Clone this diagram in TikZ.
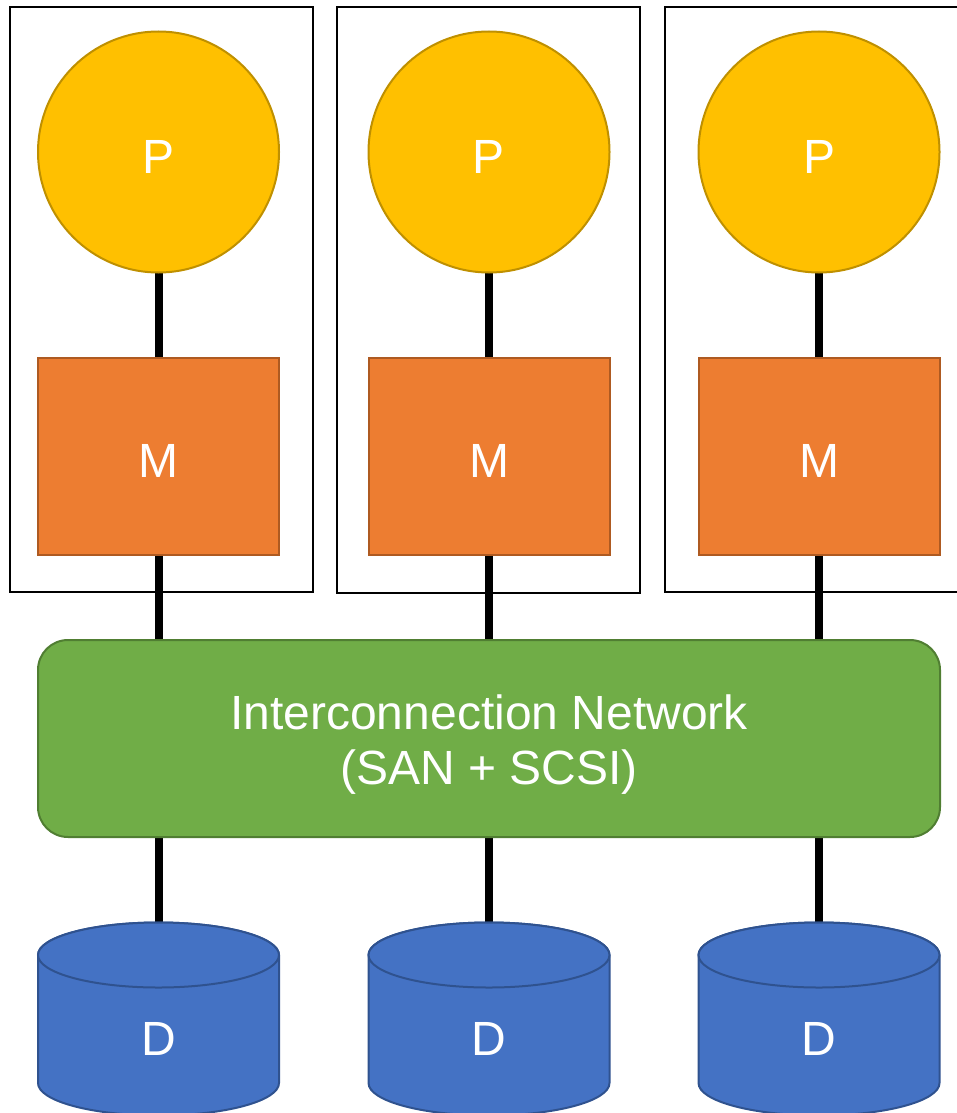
\documentclass[tikz,border=0pt]{standalone}
\usepackage{fontspec}
\setmainfont{Liberation Sans}
\usetikzlibrary{backgrounds}
\definecolor{pfill}{HTML}{FFC000}
\definecolor{pline}{HTML}{BF9000}
\definecolor{mfill}{HTML}{ED7D31}
\definecolor{mline}{HTML}{AE5A21}
\definecolor{nfill}{HTML}{70AD47}
\definecolor{nline}{HTML}{507E32}
\definecolor{dfill}{HTML}{4472C4}
\definecolor{dline}{HTML}{2F528F}
\begin{document}
\begin{tikzpicture}[x=1pt,y=-1pt,
  bigtext/.style={text=white,font=\fontsize{48}{55}\selectfont},
  proc/.style={circle,fill=pfill,draw=pline,line width=2pt,minimum size=241pt,inner sep=0pt,bigtext,text height=42pt,text depth=0pt},
  mem/.style={rectangle,fill=mfill,draw=mline,line width=2pt,minimum width=241pt,minimum height=197pt,inner sep=0pt,bigtext,text height=41pt,text depth=0pt},
  netbox/.style={rectangle,rounded corners=30pt,fill=nfill,draw=nline,line width=2pt,minimum width=902pt,minimum height=197pt},
  nettxt/.style={anchor=base,align=center,inner sep=0pt,bigtext},
  disk/.style={fill=dfill,draw=dline,line width=2pt},
  dlabel/.style={anchor=base,inner sep=0pt,bigtext},
  container/.style={draw=black,line width=1.5pt},
  wire/.style={draw=black,line width=8pt}]
\useasboundingbox (0,0) rectangle (956,1113);

% containers
\draw[container] (10,7) rectangle (313,592);
\draw[container] (337,7) rectangle (640,593);
\draw[container] (968,7) -- (665,7) -- (665,592) -- (968,592);

% network
\node[netbox] (net) at (489,738.5) {};
\node[nettxt] (netlabel) at (489,784) {Interconnection Network\\(SAN + SCSI)};

\foreach \i/\cx in {1/158.5,2/489,3/819}{
  \node[proc] (p\i) at (\cx,152) {P};
  \node[mem] (m\i) at (\cx,456.5) {M};
  % disk
  \path[disk] (\cx-120.5,955) -- (\cx-120.5,1083)
     arc[start angle=180,end angle=0,x radius=120.5,y radius=32.5]
     -- (\cx+120.5,955)
     arc[start angle=0,end angle=-180,x radius=120.5,y radius=32.5] -- cycle;
  \draw[disk] (\cx,955) ellipse[x radius=120.5,y radius=32.5];
  \coordinate (d\i) at (\cx,922.5);
  \node[dlabel] (dl\i) at (\cx,1055) {D};
}

\begin{scope}[on background layer]
\foreach \i in {1,2,3}{
  \draw[wire] (p\i.center) -- (m\i.center);
  \draw[wire] (m\i.center) -- (m\i |- net.center);
  \draw[wire] (net.center -| d\i) -- (d\i);
}
\end{scope}
\end{tikzpicture}
\end{document}
